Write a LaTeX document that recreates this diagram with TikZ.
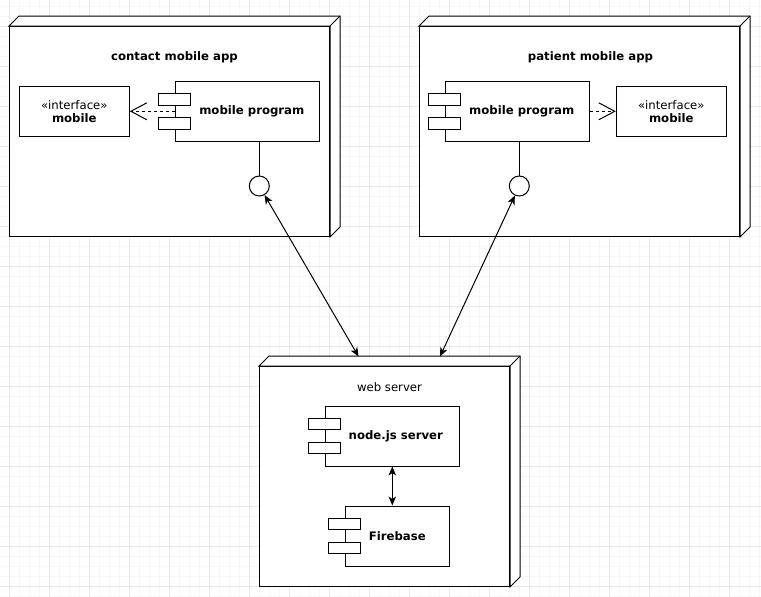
\documentclass[tikz,border=0pt]{standalone}
\usepackage{fontspec}
\setmainfont{DejaVu Sans}
\usetikzlibrary{arrows.meta}
\begin{document}
\begin{tikzpicture}[x=1pt,y=-1pt,
  every node/.style={font=\fontsize{11.7}{13}\selectfont},
  frame/.style={draw, line width=1pt, fill=white, rectangle, inner sep=0pt},
  devnode/.style={frame},
  comp/.style={frame, font=\fontsize{11.7}{13}\selectfont\bfseries},
  iface/.style={frame, align=center},
  port/.style={draw, line width=1pt, fill=white, circle, minimum size=20pt, inner sep=0pt},
  tab/.style={frame, minimum width=32pt, minimum height=11.5pt},
  link/.style={line width=1pt},
  depends/.style={line width=1pt, dash pattern=on 3pt off 3pt, -{Straight Barb[length=16pt,width=17pt]}},
  comm/.style={line width=1pt, {Stealth[length=9pt,width=7.5pt,inset=2.5pt]}-{Stealth[length=9pt,width=7.5pt,inset=2.5pt]}},
  minorgrid/.style={draw=black!3, line width=1pt},
  majorgrid/.style={draw=black!9, line width=1pt},
  face/.style={draw, line width=1pt, fill=white, line join=miter},
]
\useasboundingbox (0,0) rectangle (761,597);

% background grid
\foreach \x in {-0.5,9.5,...,760} \draw[minorgrid] (\x,0) -- (\x,597);
\foreach \y in {6.5,16.5,...,597} \draw[minorgrid] (0,\y) -- (761,\y);
\foreach \x in {9.5,49.5,...,760} \draw[majorgrid] (\x,0) -- (\x,597);
\foreach \y in {26.5,66.5,...,597} \draw[majorgrid] (0,\y) -- (761,\y);

% ---------- contact mobile app ----------
\node[devnode, minimum width=320pt, minimum height=210pt] (contactApp) at (169.5,131.5) {};
\draw[face] (contactApp.north west) -- ++(10,-10) -- ([shift={(10,-10)}]contactApp.north east)
  -- ([shift={(10,-10)}]contactApp.south east) -- (contactApp.south east) -- (contactApp.north east) -- cycle;
\draw[link] (contactApp.north east) -- ++(10,-10);
\node (contactTitle) at (174.5,57) {\bfseries contact mobile app};
\node[iface, minimum width=110pt, minimum height=49.5pt] (contactIface) at (74.3,111.3) {«interface»\\\textbf{mobile}};
\coordinate (contactProgW) at (175.3,111.3);
\draw[depends] (contactProgW) -- (contactIface.east);
\node[comp, minimum width=144pt, minimum height=60pt] (contactProg) at (247.3,111.3) {\hspace*{9pt}mobile program};
\node[tab] (contactTabA) at ([yshift=12pt]contactProg.west) {};
\node[tab] (contactTabB) at ([yshift=-12pt]contactProg.west) {};
\node[port] (contactPort) at (259.3,186) {};
\draw[link] (contactPort |- contactProg.south) -- (contactPort.north);

% ---------- patient mobile app ----------
\node[devnode, minimum width=320pt, minimum height=210pt] (patientApp) at (579.5,131.5) {};
\draw[face] (patientApp.north west) -- ++(10,-10) -- ([shift={(10,-10)}]patientApp.north east)
  -- ([shift={(10,-10)}]patientApp.south east) -- (patientApp.south east) -- (patientApp.north east) -- cycle;
\draw[link] (patientApp.north east) -- ++(10,-10);
\node (patientTitle) at (590.5,57) {\bfseries patient mobile app};
\node[iface, minimum width=110pt, minimum height=49.5pt] (patientIface) at (671.3,111.3) {«interface»\\\textbf{mobile}};
\node[comp, minimum width=144pt, minimum height=60pt] (patientProg) at (517.2,111.3) {\hspace*{9pt}mobile program};
\node[tab] (patientTabA) at ([yshift=12pt]patientProg.west) {};
\node[tab] (patientTabB) at ([yshift=-12pt]patientProg.west) {};
\draw[depends] (patientProg.east) -- (patientIface.west);
\node[port] (patientPort) at (519.3,186) {};
\draw[link] (patientPort |- patientProg.south) -- (patientPort.north);

% ---------- web server ----------
\node[devnode, minimum width=250pt, minimum height=220pt] (webServer) at (384.5,476.5) {};
\draw[face] (webServer.north west) -- ++(10,-10) -- ([shift={(10,-10)}]webServer.north east)
  -- ([shift={(10,-10)}]webServer.south east) -- (webServer.south east) -- (webServer.north east) -- cycle;
\draw[link] (webServer.north east) -- ++(10,-10);
\node (webTitle) at (389.5,387) {web server};
\node[comp, minimum width=134pt, minimum height=60pt] (nodeServer) at (392.3,436) {\hspace*{7pt}node.js server};
\node[tab] (nodeTabA) at ([yshift=12pt]nodeServer.west) {};
\node[tab] (nodeTabB) at ([yshift=-12pt]nodeServer.west) {};
\node[comp, minimum width=104pt, minimum height=60pt] (firebase) at (397.3,536) {Firebase};
\node[tab] (fireTabA) at ([yshift=12pt]firebase.west) {};
\node[tab] (fireTabB) at ([yshift=-12pt]firebase.west) {};
\draw[comm] (nodeServer.south) -- (nodeServer.south |- firebase.north);

% ---------- connections between devices ----------
\coordinate (webInL) at (358.5,356.5);
\coordinate (webInR) at (440,356.5);
\draw[comm] (contactPort) -- (webInL);
\draw[comm] (patientPort) -- (webInR);
\end{tikzpicture}
\end{document}
